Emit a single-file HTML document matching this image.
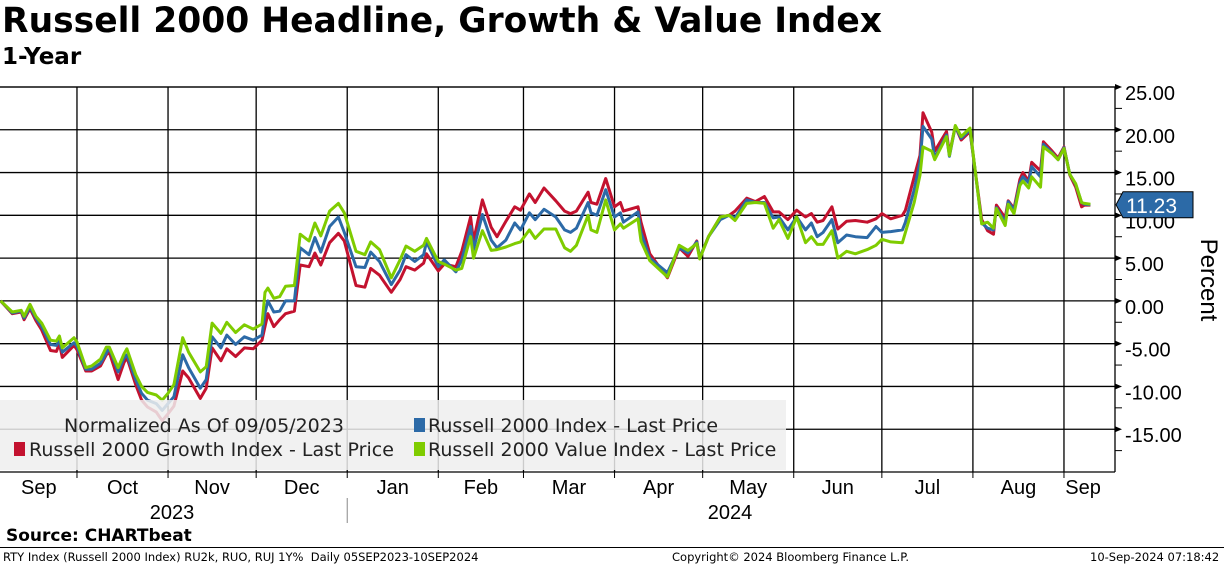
<!DOCTYPE html>
<html><head><meta charset="utf-8"><style>
body{margin:0;width:1224px;height:566px;background:#fff;overflow:hidden;font-family:"Liberation Sans","DejaVu Sans",sans-serif;position:relative}
.t{position:absolute;white-space:nowrap;color:#000}
</style></head><body>
<div class="t" style="left:2px;top:1px;font-size:34.5px;font-weight:bold;font-family:'DejaVu Sans',sans-serif">Russell 2000 Headline, Growth &amp; Value Index</div>
<div class="t" style="left:2px;top:44px;font-size:23px;font-weight:bold;font-family:'DejaVu Sans',sans-serif">1-Year</div>
<svg id="chart" width="1224" height="566" style="position:absolute;left:0;top:0"></svg>
<div class="t" style="left:6px;top:526px;font-size:17px;font-weight:bold;font-family:'DejaVu Sans',sans-serif">Source: CHARTbeat</div>
<div style="position:absolute;left:0;top:547px;width:1224px;height:1px;background:#000"></div>
<div class="t" style="left:3px;top:550px;font-size:11.5px;font-family:'DejaVu Sans',sans-serif">RTY Index (Russell 2000 Index) RU2k, RUO, RUJ 1Y%&nbsp; Daily 05SEP2023-10SEP2024</div>
<div class="t" style="left:672px;top:550px;font-size:11.5px;font-family:'DejaVu Sans',sans-serif">Copyright© 2024 Bloomberg Finance L.P.</div>
<div class="t" style="left:1090px;top:550px;font-size:11.5px;font-family:'DejaVu Sans',sans-serif">10-Sep-2024 07:18:42</div>
<script>
const days=[0,4,7,8,10,12,14,17,19,20,21,25,26,29,31,34,36,37,40,42,43,46,48,50,53,55,57,59,62,64,68,70,72,75,77,80,83,86,89,90,91,93,95,97,100,102,105,107,109,112,115,117,121,124,126,129,133,136,138,141,144,145,149,151,155,157,160,161,164,167,169,172,175,177,180,182,185,189,192,194,196,200,201,203,206,209,211,212,217,218,221,227,231,234,237,238,241,245,248,250,254,257,260,263,265,268,271,274,276,278,280,283,285,288,291,295,298,300,303,307,308,311,313,314,317,318,322,323,325,327,330,334,336,338,339,342,343,345,347,348,350,351,354,355,358,360,362,364,366,368,369,371];
const headline=[0,-1.4,-1.2,-2,-0.7,-2,-3,-5.1,-5.2,-4.6,-6,-4.9,-5.3,-8,-8,-7.3,-6.1,-5.5,-8.3,-6.7,-6.3,-9.2,-10.8,-11.6,-12,-12.8,-12,-11.2,-6.3,-7.8,-10.2,-9.2,-4.2,-5.5,-4,-5.1,-4.2,-4.6,-4,-1.4,0,-1.3,-1.2,0,0,6.2,5.4,7.4,5.7,8.7,9.8,8,4,3.9,5.7,4.6,1.9,3.6,5.4,4.6,5.4,6.9,4,4.8,3.4,4.8,8.7,6,10.1,7.1,6.2,7.1,9.1,8.3,10.3,9.5,10.7,9.8,8.3,8,8.5,11.5,10.3,10,13,9.8,10.3,9.2,10.4,8,5,3.3,6.2,5.6,6.9,5,7.5,9.5,10,9.7,11.8,11.5,11.5,9.7,9.8,8.3,9.8,8.3,9.1,7.5,8,9.5,6.8,7.7,7.5,7.4,8.7,8,8.1,8.3,9.2,13,16.2,20.4,18.9,16.7,19.4,16.9,20.4,19,20,9.1,8.5,8.3,10.9,9.2,11.6,10.6,13.8,14.5,13.8,15.7,14.5,18.3,17.3,16.5,17.9,14.8,13.6,11.5,11.3,11.23];
const growth=[0,-1.5,-1.3,-2.2,-0.9,-2.3,-3.4,-5.8,-5.9,-5,-6.6,-5.2,-5.7,-8.2,-8.2,-7.6,-6.3,-6,-9.2,-7.2,-6.6,-9.8,-11.6,-12.4,-13,-14,-13.2,-12.3,-8.2,-9,-11.4,-10.2,-5.5,-7,-5.6,-6.5,-5.5,-5.6,-4.6,-3,-1.5,-3,-2.2,-1.5,-1.2,4.2,4,5.6,4.2,6.8,7.9,7,1.8,1.6,3.8,3,1,2.5,4,3.6,4.4,5.5,3.5,4.3,4,5.8,9.8,7,11.8,8.6,7.5,9.3,11,10.6,12.5,11.5,13.2,11.7,10.5,10.2,10.5,12.7,11.5,11.3,14.3,11,11.5,10.5,11,9.2,5.5,2.7,6.2,5.2,7,5,7.5,9.8,10,10.5,12,11.6,12.2,10.4,10.4,9.5,10.6,9.8,10.2,9.2,9.4,11,8.4,9.3,9.4,9.2,9.6,10.2,9.6,10,10.6,14.5,17,22,19.7,17.5,19.8,17.2,20.4,18.8,19.8,9.5,8.2,7.8,11.2,9.7,11.7,10.8,14.2,15,14,16.2,15.2,18.6,17.5,16.7,18,14.7,13.3,11,11.2,11.2];
const value=[0,-1.3,-1.1,-1.8,-0.4,-1.8,-2.6,-4.6,-4.7,-4.1,-5.5,-4.3,-4.8,-7.8,-7.6,-6.8,-5.4,-5.4,-7.8,-6.2,-5.6,-8.6,-10,-10.7,-11,-11.6,-10.8,-9.8,-4.3,-6,-8.3,-7.7,-2.6,-3.8,-2.5,-3.7,-2.8,-3.3,-2.7,1,1.5,0.3,0.5,1.7,1.8,7.8,7,9.1,7.6,10.5,11.4,10.3,5.8,5.4,6.9,6,2.7,4.8,6.4,5.8,6.5,7.3,4.6,4.3,3.6,3.8,7.5,5,8.2,5.9,6,6.3,6.7,6.9,8.3,7.3,8.4,8.4,6.2,5.8,6.5,10,8.3,8,11.8,8.3,9,8.5,9.6,7,4.7,2.8,6.5,5.9,6.7,4.9,7.5,9.8,10,9.4,11.4,11.5,11.4,8.5,9.5,7.3,9.8,6.8,7.5,6.6,6.6,8.2,5,5.8,5.5,6,6.5,7.2,6.9,6.8,8,11.5,14.7,18,17.5,16.5,19.2,17,20.5,19.2,20.2,9,9.2,8.5,10.8,8.8,11.3,10.2,13.5,14,13.2,14.5,13.3,18,17.2,16.5,17.8,14.8,13.7,11.5,11.4,11.3];
const yTicks=[25,20,15,10,5,0,-5,-10,-15];
const monthLabels=["Sep","Oct","Nov","Dec","Jan","Feb","Mar","Apr","May","Jun","Jul","Aug","Sep"];
const monthStartDays=[0,26,57,87,118,149,178,209,239,270,300,331,362];
const yearLabels=["2023","2024"];

const NS="http://www.w3.org/2000/svg";
const svg=document.getElementById('chart');
const L=0,R=1115,T=87,B=472,YMIN=-20,YMAX=25;
const xScale=d=>0.6+d*2.9375;
const yScale=v=>B-(v-YMIN)/(YMAX-YMIN)*(B-T);
function mk(tag,attrs){const e=document.createElementNS(NS,tag);for(const k in attrs)e.setAttribute(k,attrs[k]);svg.appendChild(e);return e;}

yTicks.forEach(v=>{
  const g=mk('line',{x1:L,x2:R,y1:yScale(v),y2:yScale(v),stroke:'#000','stroke-width':1.3});
  
  
  const tk=mk('path',{d:`M${R} ${yScale(v)-3}L${R+7} ${yScale(v)}L${R} ${yScale(v)+3}Z`,fill:'#000'});
  
  
  const tx=mk('text',{x:1125,y:yScale(v)+13,'font-size':20,'font-family':'Liberation Sans, sans-serif',fill:'#000'});
  tx.textContent=v.toFixed(2);
  
  
});
for(let v=YMIN+2.5;v<YMAX;v+=5){
  const m=mk('line',{x1:R,x2:R+7,y1:yScale(v),y2:yScale(v),stroke:'#000','stroke-width':1});
  
  
}
monthStartDays.forEach((d,i)=>{
  if(i>0){
    const g=mk('line',{x1:xScale(d),x2:xScale(d),y1:T,y2:B,stroke:'#000','stroke-width':1.3});
    
    
    const tk=mk('line',{x1:xScale(d),x2:xScale(d),y1:B,y2:B+6,stroke:'#000','stroke-width':1});
    
    
  }
  const next=i<monthStartDays.length-1?monthStartDays[i+1]:375;
  const tx=mk('text',{x:(xScale(d)+Math.min(xScale(next),1115))/2,y:494,'font-size':20,'text-anchor':'middle','font-family':'Liberation Sans, sans-serif',fill:'#000'});
  tx.textContent=monthLabels[i];
  
  
});
const yr1=mk('text',{x:172,y:519,'font-size':20,'text-anchor':'middle','font-family':'Liberation Sans, sans-serif'});
yr1.textContent=yearLabels[0];


const yr2=mk('text',{x:730,y:519,'font-size':20,'text-anchor':'middle','font-family':'Liberation Sans, sans-serif'});
yr2.textContent=yearLabels[1];


const ysep=mk('line',{x1:xScale(118),x2:xScale(118),y1:498,y2:523,stroke:'#888','stroke-width':1});


const topBorder=mk('line',{x1:0,x2:R,y1:T,y2:T,stroke:'#000','stroke-width':1.3});


const botAxis=mk('line',{x1:0,x2:R,y1:B,y2:B,stroke:'#000','stroke-width':1.3});


const yAxisLine=mk('line',{x1:R,x2:R,y1:T,y2:B,stroke:'#000','stroke-width':1.3});


const yTitle=mk('text',{x:0,y:0,'font-size':24,'font-family':'Liberation Sans, sans-serif',transform:'translate(1201,280) rotate(90)','text-anchor':'middle'});
yTitle.textContent='Percent';



function drawLine(vals,color,name){
  const d=vals.map((v,i)=>(i?'L':'M')+xScale(days[i]).toFixed(1)+' '+yScale(v).toFixed(1)).join('');
  const p=mk('path',{d:d,fill:'none',stroke:color,'stroke-width':3,'stroke-linejoin':'round'});
  
  
}
drawLine(growth,'#c3122f','growth-index-line');
drawLine(headline,'#2c6aa7','russell-2000-line');
drawLine(value,'#7fcc00','value-index-line');

const lg=mk('rect',{x:0,y:400,width:786,height:70,fill:'rgba(238,238,238,0.85)'});


function legText(x,y,t,name){const e=mk('text',{x:x,y:y,'font-size':19,'font-family':'DejaVu Sans, sans-serif',fill:'#222'});e.textContent=t;}
function legSw(x,y,c,name){const e=mk('rect',{x:x,y:y,width:11,height:14,fill:c});}
legText(64,432,'Normalized As Of 09/05/2023','legend-note');
legSw(414,418,'#2c6aa7','legend-swatch-headline');
legText(428,432,'Russell 2000 Index - Last Price','legend-entry-headline');
legSw(14,442,'#c3122f','legend-swatch-growth');
legText(29,456,'Russell 2000 Growth Index - Last Price','legend-entry-growth');
legSw(414,442,'#7fcc00','legend-swatch-value');
legText(428,456,'Russell 2000 Value Index - Last Price','legend-entry-value');

const lastV=headline[headline.length-1];
const ly=yScale(lastV);
const tag=mk('path',{d:`M1116 ${ly}L1123 ${ly-13}L1193 ${ly-13}L1193 ${ly+13}L1123 ${ly+13}Z`,fill:'#2c6aa7',stroke:'#000','stroke-width':1});


const tt=mk('text',{x:1126,y:ly+8,'font-size':21,'font-family':'Liberation Sans, sans-serif',fill:'#fff'});
tt.textContent=lastV.toFixed(2);


</script>
</body></html>
